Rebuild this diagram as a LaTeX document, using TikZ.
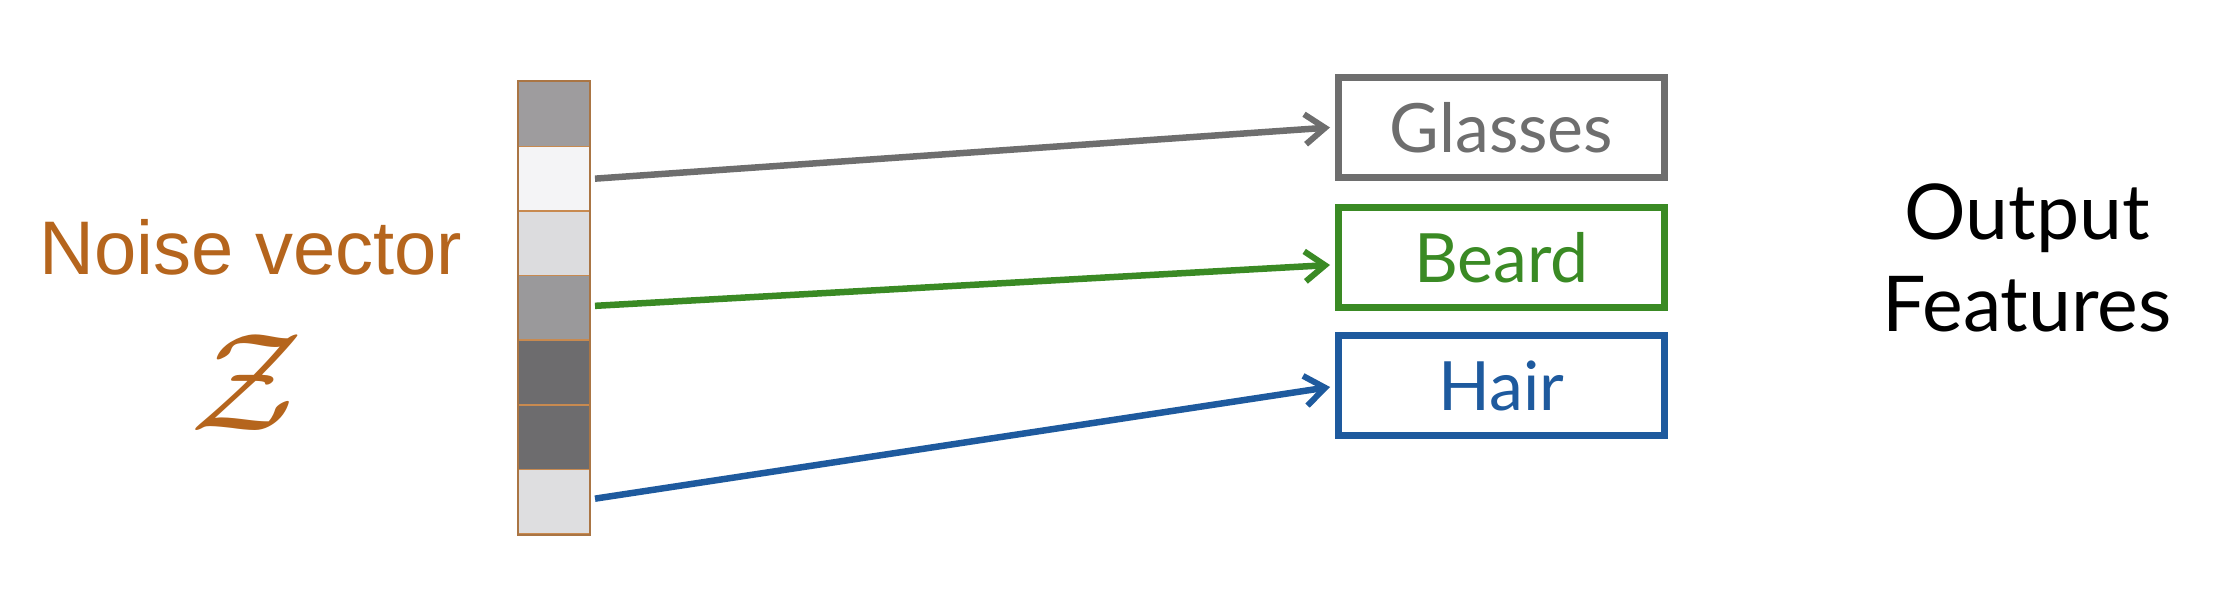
\documentclass[tikz,border=0pt]{standalone}
\usepackage{fontspec}
\setmainfont{Lato}
\newfontfamily\arialfont{Liberation Sans}
\usetikzlibrary{arrows.meta}
\definecolor{nzorange}{HTML}{B5651D}
\definecolor{cellborder}{HTML}{C88A50}
\definecolor{gcol}{HTML}{6E6E6E}
\definecolor{bcol}{HTML}{3A8A24}
\definecolor{hcol}{HTML}{1E5A9E}
\definecolor{c1}{HTML}{9E9C9E}
\definecolor{c2}{HTML}{F4F4F6}
\definecolor{c3}{HTML}{DCDCDE}
\definecolor{c4}{HTML}{9A999B}
\definecolor{c5}{HTML}{6D6C6E}
\definecolor{c6}{HTML}{6D6C6E}
\definecolor{c7}{HTML}{DEDEE0}
\tikzset{
  x=1pt, y=1pt,
  cell/.style={draw=cellborder, line width=1.5pt, minimum width=71pt, minimum height=64.6pt, inner sep=0pt, anchor=north west},
  featbox/.style={draw=#1, line width=7pt, minimum width=326pt, minimum height=100pt, inner sep=0pt, text=#1, font=\fontsize{68}{80}\selectfont},
  conn/.style={draw=#1, line width=6.5pt, -{Straight Barb[length=20pt,width=30pt,line width=6pt]}},
}
\begin{document}
\begin{tikzpicture}
\useasboundingbox (0,0) rectangle (2240,-609);
\fill[white] (0,0) rectangle (2240,-609);
% vector cells
\foreach \i/\c in {1/c1,2/c2,3/c3,4/c4,5/c5,6/c6,7/c7}{
  \node[cell, fill=\c] (cell\i) at (517.5,{-81-(\i-1)*64.6}) {};
}
\draw[cellborder!85!black, line width=2pt] (cell1.north west) rectangle (cell7.south east);
% labels
\node[text=nzorange, font=\arialfont\fontsize{76}{90}\selectfont, anchor=base] (nv) at (251,-275) {Noise vector};
\node[text=nzorange, inner sep=0pt] (z) at (247,-383) {\scalebox{14}{$\mathcal{Z}$}};
\node[font=\fontsize{77}{92}\selectfont, align=center, anchor=base] (of) at (2027,-332) {Output\\Features};
% boxes
\node[featbox=gcol] (glasses) at (1501.5,-127.5) {Glasses};
\node[featbox=bcol] (beard) at (1501.5,-257.5) {Beard};
\node[featbox=hcol] (hair) at (1501.5,-385.5) {Hair};
% connectors
\draw[conn=gcol] ([xshift=5pt,yshift=-0pt]cell2.east) -- ([xshift=-5pt,yshift=0pt]glasses.west);
\draw[conn=bcol] ([xshift=5pt,yshift=2pt]cell4.east) -- ([xshift=-5pt,yshift=-7.5pt]beard.west);
\draw[conn=hcol] ([xshift=5pt,yshift=3pt]cell7.east) -- ([xshift=-5pt,yshift=-1.5pt]hair.west);
\end{tikzpicture}
\end{document}
